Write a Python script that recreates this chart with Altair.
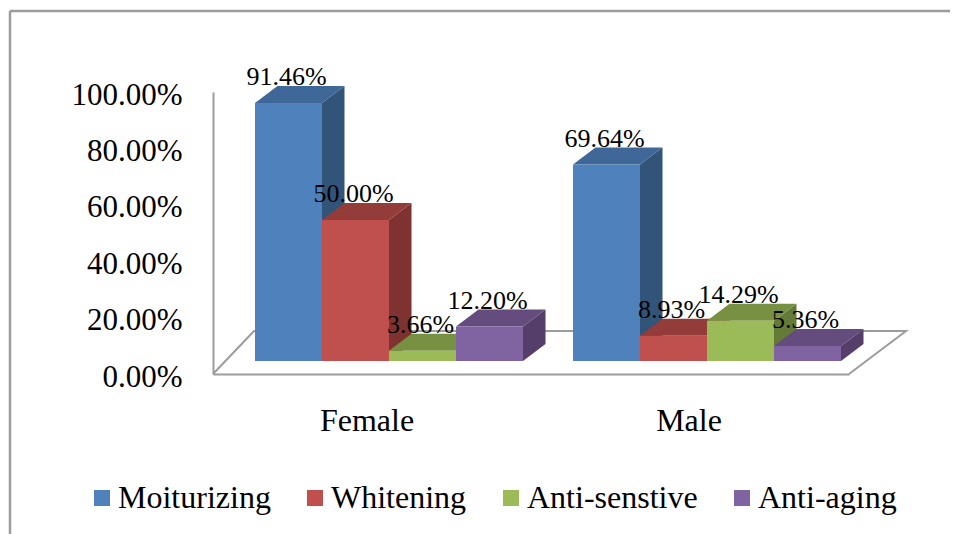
import altair as alt
import pandas as pd

# ---- chart values ----
categories = ["Female", "Male"]
series = ["Moiturizing", "Whitening", "Anti-senstive", "Anti-aging"]
values = {
    "Female": [0.9146, 0.50, 0.0366, 0.1220],
    "Male": [0.6964, 0.0893, 0.1429, 0.0536],
}
front_colors = ["#4f81bd", "#c0504d", "#9bbb59", "#8064a2"]
top_colors = ["#3f6797", "#933c39", "#789042", "#644c7e"]
side_colors = ["#335479", "#7f3331", "#647a36", "#553f6a"]
y_ticks = [0, 0.2, 0.4, 0.6, 0.8, 1.0]

# ---- 3-D layout, in the units of the two scales ----
X_MAX = 636
GROUP_START = {"Female": 42, "Male": 360}
GROUP_LABEL_X = {"Female": 154, "Male": 476}
BAR_W = 67
DEPTH_X = 22.5
BASE = 0.0461
DEPTH_Y = 0.0603
FLOOR_BACK = 0.1525
FLOOR_LEFT = 41
FLOOR_RIGHT = 693
GREY = "#9c9c9c"
FONT = "Liberation Serif"

x_scale = alt.Scale(domain=[0, X_MAX], nice=False, zero=False)
y_scale = alt.Scale(domain=[0, 1], nice=False)
x_axis = alt.Axis(labels=False, ticks=False, grid=False, title=None, domain=True,
                  domainColor=GREY, domainWidth=2)
y_axis = alt.Axis(values=y_ticks, format=".2%", ticks=False, grid=False, title=None,
                  domain=True, domainColor=GREY, domainWidth=2, labelPadding=31,
                  labelFont=FONT, labelFontSize=31, labelColor="#000000", labelOffset=3)


def X(field="x"):
    return alt.X(f"{field}:Q", scale=x_scale, axis=x_axis)


def Y(field="y"):
    return alt.Y(f"{field}:Q", scale=y_scale, axis=y_axis)


side_rows, top_rows, front_rows, label_rows = [], [], [], []
for cat in categories:
    for i, (name, v) in enumerate(zip(series, values[cat])):
        x0 = GROUP_START[cat] + i * BAR_W
        x1 = x0 + BAR_W
        t = BASE + v
        key = f"{cat}-{name}"
        front_rows.append(dict(s=name, x=x0, x2=x1, y=t, y2=BASE))
        label_rows.append(dict(s=name, x=(x0 + x1) / 2, y=t, text=f"{v:.2%}"))
        side_rows += [
            dict(s=name, k=key, x=x1, y=t, y2=BASE),
            dict(s=name, k=key, x=x1 + DEPTH_X, y=t + DEPTH_Y, y2=BASE + DEPTH_Y),
        ]
        top_rows += [
            dict(s=name, k=key, x=x0, y=t, y2=t),
            dict(s=name, k=key, x=x0 + DEPTH_X, y=t + DEPTH_Y, y2=t),
            dict(s=name, k=key, x=x1, y=t + DEPTH_Y, y2=t),
            dict(s=name, k=key, x=x1 + DEPTH_X, y=t + DEPTH_Y, y2=t + DEPTH_Y),
        ]

side_df = pd.DataFrame(side_rows)
top_df = pd.DataFrame(top_rows)
front_df = pd.DataFrame(front_rows)
label_df = pd.DataFrame(label_rows)

layers = []

# outer frame (only its top and left edges fall inside the picture)
layers.append(alt.Chart(pd.DataFrame([dict(x=-203, y=-0.6, y2=1.287)])).mark_rule(
    color=GREY, strokeWidth=2.5).encode(x=X(), y=Y(), y2="y2:Q"))
layers.append(alt.Chart(pd.DataFrame([dict(x=-203, x2=760, y=1.287)])).mark_rule(
    color=GREY, strokeWidth=2.5).encode(x=X(), x2="x2:Q", y=Y()))

# floor outline
floor_df = pd.DataFrame([
    dict(o=0, x=0, y=0),
    dict(o=1, x=FLOOR_LEFT, y=FLOOR_BACK),
    dict(o=2, x=FLOOR_RIGHT, y=FLOOR_BACK),
    dict(o=3, x=X_MAX, y=0),
])
layers.append(alt.Chart(floor_df).mark_line(color=GREY, strokeWidth=2).encode(
    x=X(), y=Y(), order="o:Q"))

color = alt.Color("s:N", scale=alt.Scale(domain=series, range=front_colors), title=None,
                  legend=alt.Legend(orient="none", legendX=-127, legendY=390, direction="horizontal",
                                    columns=4, symbolType="square", symbolSize=256,
                                    symbolStrokeWidth=0, labelFont=FONT, labelFontSize=32,
                                    labelColor="#000000", labelOffset=0, columnPadding=28,
                                    labelLimit=300, padding=0))

for i, name in enumerate(series):
    layers.append(alt.Chart(side_df[side_df.s == name]).mark_area(
        color=side_colors[i], interpolate="linear").encode(
        x=X(), y=Y(), y2="y2:Q", detail="k:N"))
    layers.append(alt.Chart(top_df[top_df.s == name]).mark_area(
        color=top_colors[i], interpolate="linear").encode(
        x=X(), y=Y(), y2="y2:Q", detail="k:N"))
    layers.append(alt.Chart(front_df[front_df.s == name]).mark_bar(opacity=1).encode(
        x=X(), x2="x2:Q", y=Y(), y2="y2:Q", color=color))

layers.append(alt.Chart(label_df).mark_text(
    font=FONT, fontSize=26, color="#000000", baseline="alphabetic", align="center",
    dx=-2, dy=-18).encode(x=X(), y=Y(), text="text:N"))

cat_df = pd.DataFrame([dict(x=GROUP_LABEL_X[c], y=-0.165, text=c) for c in categories])
layers.append(alt.Chart(cat_df).mark_text(
    font=FONT, fontSize=32, color="#000000", baseline="middle", align="center").encode(
    x=X(), y=Y(), text="text:N"))

chart = alt.layer(*layers).properties(
    width=X_MAX, height=282,
    padding={"left": 205, "top": 84, "right": 101, "bottom": 160},
    autosize=alt.AutoSizeParams(type="none"),
    background="#ffffff",
).configure_view(stroke=None)

chart.save("out.html", embed_options={"renderer": "svg", "actions": False})
